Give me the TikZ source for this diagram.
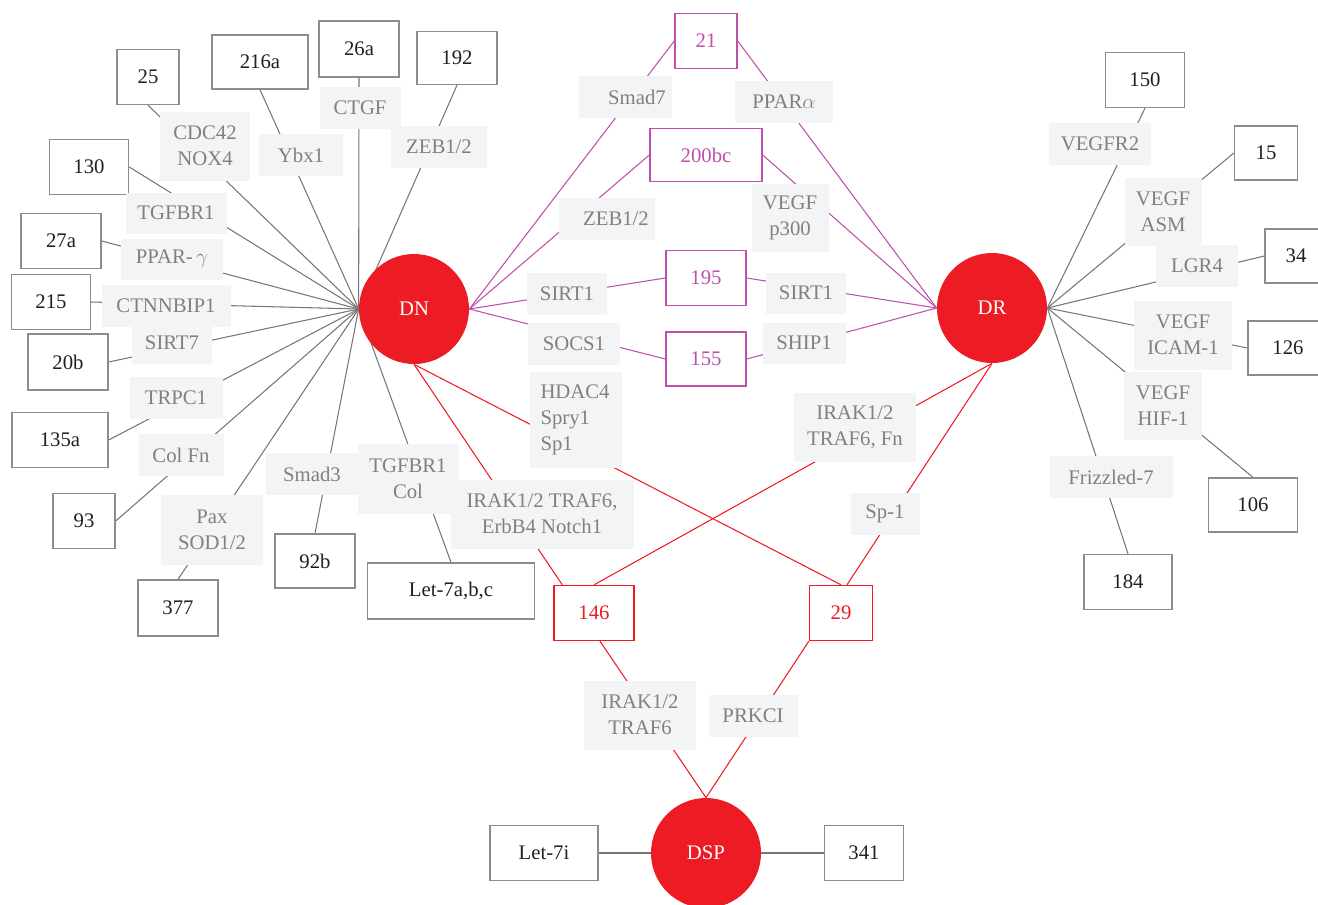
\documentclass[tikz,border=0pt]{standalone}
\usepackage{fontspec}
\setmainfont{Liberation Serif}
\usetikzlibrary{calc,backgrounds}
\definecolor{lgray}{RGB}{243,244,246}
\definecolor{tgray}{RGB}{128,128,128}
\definecolor{lnk}{RGB}{118,118,118}
\definecolor{bgray}{RGB}{140,140,140}
\definecolor{pur}{RGB}{190,80,170}
\definecolor{rd}{RGB}{237,28,36}
\definecolor{txt}{RGB}{35,31,32}
\begin{document}
\begin{tikzpicture}[x=0.02cm,y=-0.02cm,
  every node/.style={font=\fontsize{11.8}{14.8}\selectfont, inner sep=0pt, align=center},
  sz/.style 2 args={minimum width=#1*0.02cm,minimum height=#2*0.02cm},
  mir/.style={draw=bgray, line width=0.8pt, fill=white, text=txt},
  pmir/.style={draw=pur, line width=0.8pt, fill=white, text=pur},
  rmir/.style={draw=rd, line width=0.8pt, fill=white, text=rd},
  lab/.style={fill=lgray, text=tgray},
  hub/.style={circle, fill=rd, text=white, minimum size=110*0.02cm},
  glink/.style={draw=lnk, line width=0.6pt},
  plink/.style={draw=pur, line width=0.6pt},
  rlink/.style={draw=rd, line width=0.6pt},
]
\useasboundingbox (0,0) rectangle (1318,904);

% left miRNA boxes
\node[mir,sz={62}{55}] (m25) at (148,77) {25};
\node[mir,sz={96}{54}] (m216a) at (260,62) {216a};
\node[mir,sz={80}{56}] (m26a) at (359,49) {26a};
\node[mir,sz={80}{53}] (m192) at (457,58) {192};
\node[mir,sz={79}{55}] (m130) at (89,167) {130};
\node[mir,sz={80}{55}] (m27a) at (61,241) {27a};
\node[mir,sz={79}{55}] (m215) at (51,302) {215};
\node[mir,sz={80}{56}] (m20b) at (68,362) {20b};
\node[mir,sz={96}{55}] (m135a) at (60,440) {135a};
\node[mir,sz={62}{55}] (m93) at (84,521) {93};
\node[mir,sz={80}{56}] (m377) at (178,608) {377};
\node[mir,sz={80}{54}] (m92b) at (315,561) {92b};
\node[mir,sz={167}{56}] (mlet) at (451,591) {Let-7a,b,c};

% left labels
\node[lab,sz={90}{69}] (lcdc) at (205,146) {CDC42\\NOX4};
\node[lab,sz={84}{42}] (lybx) at (301,155) {Ybx1};
\node[lab,sz={81}{42}] (lctgf) at (360,108) {CTGF};
\node[lab,sz={96}{42}] (lzeb) at (439,147) {ZEB1/2};
\node[lab,sz={101}{41}] (ltgf) at (176,213) {TGFBR1};
\node[lab,sz={102}{41}] (lppg) at (172,259) {PPAR-\,$\gamma$};
\node[lab,sz={129}{42}] (lctn) at (166,306) {CTNNBIP1};
\node[lab,sz={80}{42}] (lsirt7) at (172,343) {SIRT7};
\node[lab,sz={93}{42}] (ltrpc) at (176,398) {TRPC1};
\node[lab,sz={85}{42}] (lcolfn) at (181,455) {Col Fn};
\node[lab,sz={102}{70}] (lpax) at (212,530) {Pax\\SOD1/2};
\node[lab,sz={92}{42}] (lsmad3) at (312,474) {Smad3};
\node[lab,sz={101}{70}] (ltgfcol) at (408,479) {TGFBR1\\Col};
\node[lab,sz={183}{69}] (lirak1) at (542,514) {IRAK1/2 TRAF6,\\ErbB4 Notch1};

% centre
\node[pmir,sz={62}{55}] (m21) at (706,41) {21};
\node[lab,sz={93}{42}] (lsmad7) at (625,97) {\hspace*{0.48cm}Smad7};
\node[lab,sz={98}{42}] (lppara) at (784,102) {PPAR$\alpha$};
\node[pmir,sz={112}{53}] (m200) at (706,155) {200bc};
\node[lab,sz={96}{42}] (lzeb2) at (607,219) {\hspace*{0.36cm}ZEB1/2};
\node[lab,sz={77}{68}] (lvegfp) at (790,218) {VEGF\\p300};
\node[pmir,sz={80}{55}] (m195) at (706,278) {195};
\node[lab,sz={80}{42}] (lsirt1a) at (567,294) {SIRT1};
\node[lab,sz={80}{41}] (lsirt1b) at (806,293) {SIRT1};
\node[pmir,sz={80}{54}] (m155) at (706,359) {155};
\node[lab,sz={92}{42}] (lsocs) at (574,344) {SOCS1};
\node[lab,sz={83}{41}] (lship) at (804,343) {SHIP1};
\node[lab,minimum height=96*0.02cm,inner xsep=0.22cm,text width=1.42cm,align=left] (lhdac) at (576,420) {HDAC4\\Spry1\\Sp1};

\node[lab,sz={122}{69}] (lirakfn) at (855,427) {IRAK1/2\\TRAF6, Fn};
\node[lab,sz={69}{42}] (lsp1) at (885,514) {Sp-1};
\node[rmir,sz={80}{55}] (m146) at (594,613) {146};
\node[rmir,sz={63}{55}] (m29) at (841,613) {29};
\node[lab,sz={112}{69}] (lirak3) at (640,715) {IRAK1/2\\TRAF6};
\node[lab,sz={89}{42}] (lprkci) at (753,716) {PRKCI};
\node[mir,sz={108}{55}] (mlet7i) at (544,853) {Let-7i};
\node[mir,sz={79}{55}] (m341) at (864,853) {341};

% right
\node[mir,sz={79}{55}] (m150) at (1145,80) {150};
\node[lab,sz={102}{42}] (lvegfr2) at (1100,144) {VEGFR2};
\node[mir,sz={63}{54}] (m15) at (1266,153) {15};
\node[lab,sz={77}{68}] (lvasm) at (1163,212) {VEGF\\ASM};
\node[lab,sz={82}{42}] (llgr4) at (1197,266) {LGR4};
\node[mir,sz={62}{54}] (m34) at (1296,256) {34};
\node[lab,sz={98}{69}] (lvicam) at (1183,335) {VEGF\\ICAM-1};
\node[mir,sz={80}{54}] (m126) at (1288,348) {126};
\node[lab,sz={78}{68}] (lvhif) at (1163,406) {VEGF\\HIF-1};
\node[mir,sz={89}{54}] (m106) at (1253,505) {106};
\node[lab,sz={123}{42}] (lfriz) at (1111,477) {Frizzled-7};
\node[mir,sz={88}{55}] (m184) at (1128,582) {184};

% hubs
\node[hub] (DN) at (414,309) {DN};
\node[hub] (DR) at (992,308) {DR};
\node[hub] (DSP) at (706,853) {DSP};

\begin{scope}[on background layer]
\foreach \t in {m25.south,m216a.south,m26a.south,m192.south,m130.east,m27a.east,m215.east,m20b.east,m135a.east,m93.east,m377.north,m92b.north,mlet.north}
  \draw[glink] (DN.west) -- (\t);
\foreach \t in {m150.south,m15.west,m34.west,m126.west,m106.north,m184.north}
  \draw[glink] (DR.east) -- (\t);
\foreach \t in {m21.west,m200.west,m195.west,m155.west}
  \draw[plink] (DN.east) -- (\t);
\foreach \t in {m21.east,m200.east,m195.east,m155.east}
  \draw[plink] (DR.west) -- (\t);
\draw[rlink] (DN.south) -- ($(m146.north west)+(9,0)$);
\draw[rlink] (DN.south) -- (m29.north);
\draw[rlink] (DR.south) -- (m146.north);
\draw[rlink] (DR.south) -- ($(m29.north)+(6,0)$);
\draw[rlink] ($(m146.south)+(6,0)$) -- (DSP.north);
\draw[rlink] (m29.south west) -- (DSP.north);
\draw[glink] (mlet7i.east) -- (DSP.west);
\draw[glink] (DSP.east) -- (m341.west);
\end{scope}
\end{tikzpicture}
\end{document}
